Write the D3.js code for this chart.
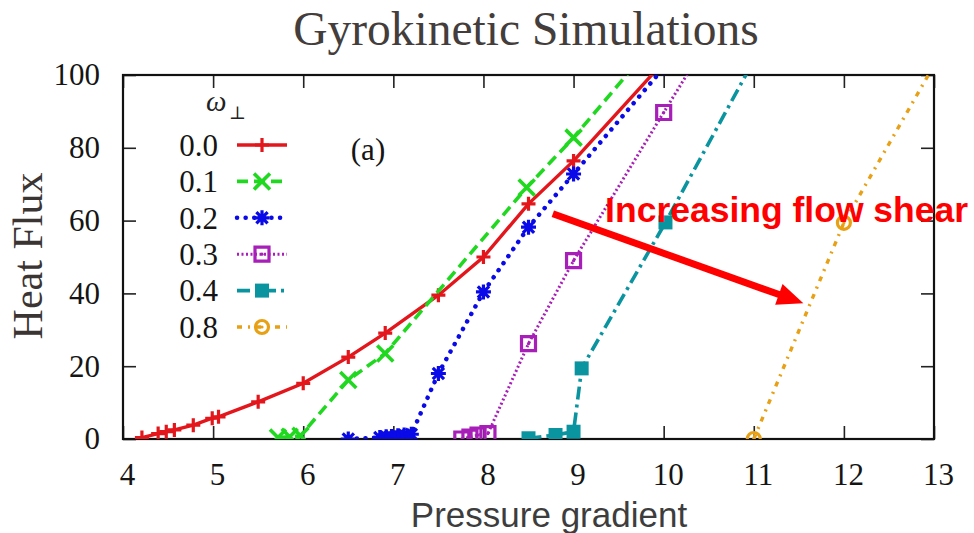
<!DOCTYPE html>
<html>
<head>
<meta charset="utf-8">
<script src="https://cdn.jsdelivr.net/npm/d3@7"></script>
<style>
  body { margin: 0; background: #fff; }
  svg { display: block; }
  .tick text { font-family: 'Liberation Serif', serif; font-size: 31px; fill: #151515; }
  .tick line { stroke: #222; stroke-width: 1.6; }
</style>
</head>
<body>
<svg width="974" height="533"></svg>
<script>
'use strict';

// values
var omegaLabels = ['0.0', '0.1', '0.2', '0.3', '0.4', '0.8'];
var xTicks = [4, 5, 6, 7, 8, 9, 10, 11, 12, 13];
var yTicks = [0, 20, 40, 60, 80, 100];

var omega00 = [[4.21, 0.4], [4.39, 1.5], [4.48, 2], [4.57, 2.5], [4.78, 3.8], [4.99, 5.7], [5.06, 6.1],
    [5.5, 10.2], [6, 15.3], [6.5, 22.5], [6.91, 29.1], [7.5, 39.5], [8, 50], [8.5, 64.6], [9, 76.4], [10, 103.6]];
var omega01 = [[5.72, 0.4], [5.85, 0.6], [5.97, 0.9], [6.5, 16.2], [6.91, 23.5], [8.48, 69.1], [9, 82.8], [10, 112]];
var omega02 = [[6.5, 0], [6.85, 0.4], [6.92, 0.6], [6.98, 0.7], [7.05, 0.9], [7.12, 1.1], [7.2, 1.3],
    [7.5, 18], [8, 40.4], [8.5, 58.2], [9, 72.8], [10, 102]];
var omega03 = [[7.76, 0], [7.85, 0.5], [7.94, 1.1], [8.05, 1.5], [8.5, 26.2], [9, 49], [10, 89.7], [11, 130]];
var omega04 = [[8.5, 0.2], [8.8, 1.1], [9, 2], [9.09, 19.4], [10.02, 59.5], [11, 104]];
var omega08 = [[11, 0], [12, 59.4], [13, 102.7]];

var arrowFrom = [8.77, 61.9];
var arrowTo = [11.55, 37.3];

var svg = d3.select('svg');

var x = d3.scaleLinear().domain([4, 13]).range([123, 934]);
var y = d3.scaleLinear().domain([0, 100]).range([439, 75]);

// gnuplot-ish point types
var plusSym = { draw: function(c, r) { c.moveTo(-r, 0); c.lineTo(r, 0); c.moveTo(0, -r); c.lineTo(0, r); } };
var timesSym = { draw: function(c, r) { c.moveTo(-r, -r); c.lineTo(r, r); c.moveTo(-r, r); c.lineTo(r, -r); } };
var starSym = { draw: function(c, r) {
    plusSym.draw(c, r);
    timesSym.draw(c, r * 0.75);
} };
var squareSym = { draw: function(c, r) { c.rect(-r, -r, 2 * r, 2 * r); } };
var circleSym = { draw: function(c, r) { c.moveTo(r, 0); c.arc(0, 0, r, 0, 2 * Math.PI); } };

var series = [
    {label: omegaLabels[0], values: omega00, color: '#e3161c', dash: null, width: 3.4,
        sym: plusSym, size: 7, fill: 'none', sw: 3.2, dot: false},
    {label: omegaLabels[1], values: omega01, color: '#1fd81f', dash: '11,6', width: 3.6,
        sym: timesSym, size: 8, fill: 'none', sw: 3.6, dot: false},
    {label: omegaLabels[2], values: omega02, color: '#0a0ae8', dash: '0.1,8.5', width: 4.5,
        sym: starSym, size: 7.5, fill: 'none', sw: 3.2, dot: false},
    {label: omegaLabels[3], values: omega03, color: '#a81eb8', dash: '2,2.5', width: 3,
        sym: squareSym, size: 7, fill: 'none', sw: 3.2, dot: true},
    {label: omegaLabels[4], values: omega04, color: '#0a94a0', dash: '13,5,3,5', width: 3.6,
        sym: squareSym, size: 7, fill: '#0a94a0', sw: 0, dot: false},
    {label: omegaLabels[5], values: omega08, color: '#e8a014', dash: '5,6,2,6', width: 3.4,
        sym: circleSym, size: 6.5, fill: 'none', sw: 3.2, dot: true}
];

svg.append('defs').append('clipPath')
    .attr('id', 'plot-clip')
    .append('rect')
    .attr('x', x(4)).attr('y', y(100))
    .attr('width', x(13) - x(4)).attr('height', y(0) - y(100));

// title and axis names
svg.append('text')
    .attr('x', 526).attr('y', 45)
    .attr('text-anchor', 'middle')
    .style('font-family', "'Liberation Serif', serif")
    .style('font-size', '47.5px')
    .style('fill', '#433d3b')
    .text('Gyrokinetic Simulations');

svg.append('text')
    .attr('transform', 'translate(42,256) rotate(-90)')
    .attr('text-anchor', 'middle')
    .style('font-family', "'Liberation Serif', serif")
    .style('font-size', '42px')
    .style('fill', '#3a3533')
    .text('Heat Flux');

svg.append('text')
    .attr('x', 549).attr('y', 527)
    .attr('text-anchor', 'middle')
    .style('font-family', "'Liberation Sans', Arial, sans-serif")
    .style('font-size', '35px')
    .style('fill', '#3d3d3d')
    .text('Pressure gradient');

// axes, ticks on all four sides pointing in
var bottom = svg.append('g')
    .attr('transform', 'translate(0,' + y(0) + ')')
    .call(d3.axisBottom(x).tickValues(xTicks).tickSize(-13).tickFormat(d3.format('d')));
bottom.selectAll('text').attr('y', 46).attr('dy', null).attr('x', 4);

svg.append('g')
    .attr('transform', 'translate(0,' + y(100) + ')')
    .call(d3.axisTop(x).tickValues(xTicks).tickSize(-13).tickFormat(''));

var left = svg.append('g')
    .attr('transform', 'translate(' + x(4) + ',0)')
    .call(d3.axisLeft(y).tickValues(yTicks).tickSize(-13));
left.selectAll('text').attr('x', -23);

svg.append('g')
    .attr('transform', 'translate(' + x(13) + ',0)')
    .call(d3.axisRight(y).tickValues(yTicks).tickSize(-13).tickFormat(''));

svg.selectAll('.domain').remove();

svg.append('rect')
    .attr('x', x(4)).attr('y', y(100))
    .attr('width', x(13) - x(4)).attr('height', y(0) - y(100))
    .attr('fill', 'none')
    .attr('stroke', '#111')
    .attr('stroke-width', 2.2);

// curves
var line = d3.line()
    .x(function(d) { return x(d[0]); })
    .y(function(d) { return y(d[1]); });

var plot = svg.append('g').attr('clip-path', 'url(#plot-clip)');

function capOf(s) {
    return s.dash && s.dash.indexOf('0.1') === 0 ? 'round' : 'butt';
}

function drawMarker(sel, s) {
    sel.append('path')
        .attr('d', d3.symbol().type(s.sym).size(s.size))
        .attr('fill', s.fill)
        .attr('stroke', s.sw ? s.color : 'none')
        .attr('stroke-width', s.sw);
    if (s.dot) {
        sel.append('circle').attr('r', 1.6).attr('fill', s.color);
    }
}

series.forEach(function(s) {
    var g = plot.append('g');
    g.append('path')
        .attr('d', line(s.values))
        .attr('fill', 'none')
        .attr('stroke', s.color)
        .attr('stroke-width', s.width)
        .attr('stroke-linecap', capOf(s))
        .attr('stroke-dasharray', s.dash);
    g.selectAll('.pt')
        .data(s.values)
        .enter()
        .append('g')
        .attr('class', 'pt')
        .attr('transform', function(d) { return 'translate(' + x(d[0]) + ',' + y(d[1]) + ')'; })
        .each(function() { drawMarker(d3.select(this), s); });
});

// legend
var legend = svg.append('g');
legend.append('text')
    .attr('x', 206).attr('y', 111)
    .style('font-family', "'Liberation Serif', serif")
    .style('font-style', 'italic')
    .style('font-size', '29px')
    .style('fill', '#222')
    .text('ω');
legend.append('text')
    .attr('x', 229).attr('y', 119)
    .style('font-family', "'DejaVu Serif', serif")
    .style('font-size', '18px')
    .style('fill', '#222')
    .text('⊥');

var rows = legend.selectAll('.row')
    .data(series)
    .enter()
    .append('g')
    .attr('class', 'row')
    .attr('transform', function(d, i) { return 'translate(0,' + (145 + i * 36.4) + ')'; });

rows.append('text')
    .attr('x', 218).attr('dy', '0.35em')
    .attr('text-anchor', 'end')
    .style('font-family', "'Liberation Serif', serif")
    .style('font-size', '31px')
    .style('fill', '#151515')
    .text(function(d) { return d.label; });

rows.append('line')
    .attr('x1', 237).attr('x2', 287)
    .attr('stroke', function(d) { return d.color; })
    .attr('stroke-width', function(d) { return d.width; })
    .attr('stroke-linecap', capOf)
    .attr('stroke-dasharray', function(d) { return d.dash; });

rows.append('g')
    .attr('transform', 'translate(262,0)')
    .each(function(d) { drawMarker(d3.select(this), d); });

svg.append('text')
    .attr('x', 368).attr('y', 160)
    .attr('text-anchor', 'middle')
    .style('font-family', "'Liberation Serif', serif")
    .style('font-size', '31px')
    .style('fill', '#151515')
    .text('(a)');

// annotation arrow
var ax0 = x(arrowFrom[0]), ay0 = y(arrowFrom[1]),
    ax1 = x(arrowTo[0]), ay1 = y(arrowTo[1]),
    ang = Math.atan2(ay1 - ay0, ax1 - ax0),
    headLen = 26, headHalf = 11;

svg.append('line')
    .attr('x1', ax0).attr('y1', ay0)
    .attr('x2', ax1 - (headLen - 4) * Math.cos(ang))
    .attr('y2', ay1 - (headLen - 4) * Math.sin(ang))
    .attr('stroke', '#ff0000')
    .attr('stroke-width', 7);

svg.append('path')
    .attr('d', 'M' + ax1 + ',' + ay1 +
        'L' + (ax1 - headLen * Math.cos(ang) + headHalf * Math.sin(ang)) + ',' +
        (ay1 - headLen * Math.sin(ang) - headHalf * Math.cos(ang)) +
        'L' + (ax1 - headLen * Math.cos(ang) - headHalf * Math.sin(ang)) + ',' +
        (ay1 - headLen * Math.sin(ang) + headHalf * Math.cos(ang)) + 'Z')
    .attr('fill', '#ff0000');

svg.append('text')
    .attr('x', x(9.35)).attr('y', y(59.7))
    .style('font-family', "'Liberation Sans', Arial, sans-serif")
    .style('font-weight', 'bold')
    .style('font-size', '35.5px')
    .style('fill', '#ff0000')
    .text('Increasing flow shear');
</script>
</body>
</html>
